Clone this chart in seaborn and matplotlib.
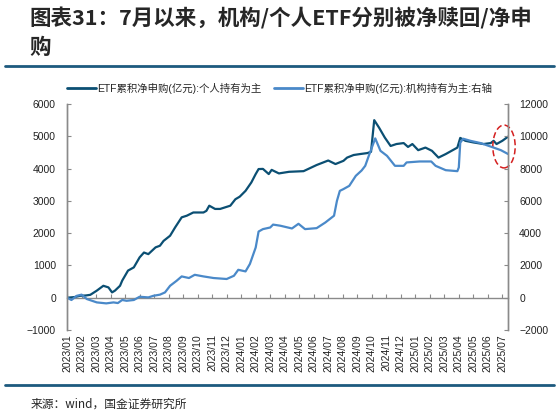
import seaborn as sns
import matplotlib.pyplot as plt
import pandas as pd
from matplotlib.lines import Line2D
from matplotlib.patches import Ellipse

# data, x = months since 2023/01
person_m = [0, 0.5, 0.9, 1.3, 1.6, 2.05, 2.5, 2.85, 3.1, 3.3, 3.65, 3.8, 4.2, 4.6, 5.0, 5.3, 5.6,
            6.1, 6.4, 6.65, 7.1, 7.45, 7.9, 8.25, 8.7, 9.4, 9.6, 9.8, 10.2, 10.55, 11.25, 11.6,
            11.9, 12.3, 12.7, 13.0, 13.2, 13.5, 13.9, 14.1, 14.6, 15.3, 16.3, 17.2, 18.0, 18.5,
            19.05, 19.3, 19.75, 20.2, 20.7, 20.95, 21.17, 21.5, 21.9, 22.3, 22.7, 23.2, 23.5,
            23.8, 24.2, 24.7, 25.15, 25.6, 26.1, 26.5, 26.9, 27.1, 27.45, 28.0, 28.7, 29.2,
            29.4, 29.6, 30.0, 30.4]
person_v = [0, 20, 60, 70, 90, 220, 370, 320, 165, 220, 370, 530, 840, 940, 1250, 1400, 1350,
            1560, 1610, 1760, 1920, 2180, 2490, 2540, 2640, 2640, 2690, 2850, 2750, 2750, 2850,
            3050, 3130, 3310, 3570, 3830, 3985, 3990, 3830, 3960, 3850, 3900, 3920, 4110, 4250,
            4140, 4240, 4340, 4420, 4450, 4480, 4520, 5500, 5270, 4960, 4700, 4760, 4790, 4670,
            4760, 4570, 4650, 4550, 4340, 4450, 4550, 4650, 4950, 4860, 4810, 4760, 4790, 4860,
            4760, 4860, 4990]

inst_m = [0, 0.3, 0.67, 1.0, 1.36, 2.05, 2.7, 3.2, 3.5, 3.8, 4.1, 4.6, 5.0, 5.6, 5.95, 6.4,
          6.75, 7.1, 7.55, 7.9, 8.4, 8.8, 9.4, 10.1, 11.0, 11.5, 11.8, 12.3, 12.6, 12.8, 13.0,
          13.2, 13.5, 14.0, 14.2, 14.7, 15.5, 15.95, 16.4, 17.2, 17.8, 18.4, 18.6, 18.8, 19.05,
          19.45, 19.9, 20.3, 20.55, 20.8, 21.24, 21.6, 22.05, 22.6, 23.2, 23.4, 24.3, 25.1,
          25.4, 26.1, 26.9, 27.0, 27.1, 27.3, 27.8, 28.5, 29.4, 29.9, 30.4]
inst_v = [0, -140, 120, 190, -80, -290, -350, -290, -330, -140, -190, -140, 60, 20, 120, 190,
          330, 740, 1050, 1320, 1220, 1420, 1320, 1220, 1160, 1360, 1730, 1630, 2090, 2600, 3110,
          4100, 4250, 4350, 4530, 4460, 4290, 4580, 4250, 4310, 4660, 5080, 6000, 6620, 6730,
          6930, 7550, 7880, 8170, 8800, 9870, 9100, 8790, 8170, 8170, 8380, 8440, 8440, 8170,
          7900, 7840, 8070, 9600, 9850, 9720, 9580, 9300, 9140, 8900]

tick_labels = [d.strftime("%Y/%m") for d in pd.date_range("2023-01-01", "2025-07-01", freq="MS")]

dark = "#0b4f73"
light = "#4a89c9"
rule = "#1d5a7e"
grey = "#8a8a8a"

sns.set_style("white")
plt.rcParams['font.family'] = ['Liberation Sans', 'Noto Sans CJK SC', 'DejaVu Sans']

fig = plt.figure(figsize=(5.59, 4.16), dpi=100)
ax = fig.add_axes([0.12, 0.2067, 0.789, 0.5433])
ax2 = ax.twinx()

sns.lineplot(x=person_m, y=person_v, ax=ax, color=dark, lw=1.6)
sns.lineplot(x=inst_m, y=inst_v, ax=ax2, color=light, lw=1.6)

ax.set_xlim(0, 30.4)
ax.set_ylim(-1000, 6000)
ax2.set_ylim(-2000, 12000)
ax.set_yticks(range(-1000, 6001, 1000))
ax2.set_yticks(range(-2000, 12001, 2000))
ax.set_xticks(range(len(tick_labels)))
ax.set_xticklabels(tick_labels, rotation=90)

for a in (ax, ax2):
    for s in a.spines.values():
        s.set_color(grey)
        s.set_linewidth(1)
    a.spines['top'].set_visible(False)
    a.spines['bottom'].set_visible(False)
ax.tick_params(axis='x', length=0, labelsize=7.5, pad=3, colors='#222222')
ax.tick_params(axis='y', direction='in', length=3, labelsize=7.5, color=grey, labelcolor='#222222', pad=8)
ax2.tick_params(axis='y', direction='in', length=3, labelsize=7.5, color=grey, labelcolor='#222222', pad=8)

# zero line with upward ticks
zero = ax.secondary_xaxis(1 / 7)
zero.set_xticks(range(len(tick_labels)))
zero.tick_params(axis='x', direction='in', length=3, color=grey, labelbottom=False)
zero.spines['bottom'].set_color(grey)
zero.spines['bottom'].set_linewidth(1)

handles = [Line2D([], [], color=dark, lw=2), Line2D([], [], color=light, lw=2)]
fig.legend(handles, ["ETF累积净申购(亿元):个人持有为主", "ETF累积净申购(亿元):机构持有为主:右轴"],
           loc='center', bbox_to_anchor=(0.5, 1 - 88 / 416), ncol=2, frameon=False,
           fontsize=7.5, handlelength=2.8, handletextpad=0.1, columnspacing=1.2)

ax2.add_patch(Ellipse((0.9016, 1 - 146.5 / 416), 0.04, 0.103, transform=fig.transFigure,
                      fill=False, ec='#d42020', ls=(0, (4, 2)), lw=1.1, clip_on=False))

fig.text(0.052, 1 - 18 / 416, "图表31：7月以来，机构/个人ETF分别被净赎回/净申", fontsize=15.5,
         fontweight='bold', style='italic', va='center', ha='left',
         family=['Noto Sans CJK SC', 'DejaVu Sans'])
fig.text(0.052, 1 - 47 / 416, "购", fontsize=15.5, fontweight='bold', style='italic',
         va='center', ha='left', family=['Noto Sans CJK SC', 'DejaVu Sans'])
fig.add_artist(Line2D([0.009, 0.991], [1 - 66 / 416] * 2, color=rule, lw=2))
fig.add_artist(Line2D([0.009, 0.991], [1 - 385 / 416] * 2, color=rule, lw=2))
fig.text(0.054, 1 - 404 / 416, "来源：wind，国金证券研究所", fontsize=8.5, va='center', ha='left',
         family=['Noto Sans CJK SC', 'DejaVu Sans'])

fig.savefig("out.png", dpi=100)
